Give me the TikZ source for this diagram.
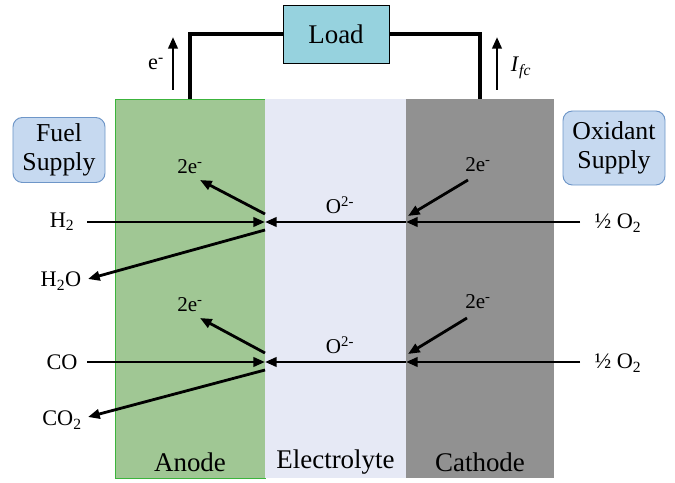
\documentclass[tikz,border=0pt]{standalone}
\usepackage{fontspec}
\setmainfont{Liberation Serif}
\definecolor{anodegreen}{RGB}{160,199,148}
\definecolor{anodeedge}{RGB}{60,180,60}
\definecolor{electrolyte}{RGB}{230,233,245}
\definecolor{cathodegrey}{RGB}{145,145,145}
\definecolor{loadcyan}{RGB}{150,210,222}
\definecolor{supplyblue}{RGB}{198,217,240}
\definecolor{supplyedge}{RGB}{110,150,200}
\usetikzlibrary{arrows.meta,positioning}

\begin{document}
\begin{tikzpicture}[x=0.03cm,y=-0.03cm,
  layer/.style={minimum height=11.37cm,inner sep=0pt,anchor=north},
  supply/.style={draw=supplyedge,fill=supplyblue,rounded corners=8pt,line width=0.8pt,
    align=center,inner sep=0pt,font=\fontsize{22}{25}\selectfont},
  lbl/.style={font=\fontsize{23}{26}\selectfont},
  spec/.style={font=\fontsize{19}{21}\selectfont},
  elec/.style={font=\fontsize{18}{20}\selectfont},
  flow/.style={line width=2.4pt,-{Triangle[length=10pt,width=8pt]}},
  wire/.style={line width=3pt}
]
  \useasboundingbox (0,0) rectangle (675,483);
  \node[layer,fill=anodegreen,draw=anodeedge,line width=0.8pt,minimum width=4.5cm] (anode) at (190,99) {};
  \node[layer,fill=electrolyte,minimum width=4.23cm] (elyte) at (335.5,99) {};
  \node[layer,fill=cathodegrey,minimum width=4.44cm] (cathode) at (480,99) {};
  \node[lbl] (anodelbl) at (190,462) {Anode};
  \node[lbl] (elytelbl) at (335.5,462) {Electrolyte};
  \node[lbl] (cathodelbl) at (480,462) {Cathode};

  \node[draw,fill=loadcyan,line width=0.8pt,minimum width=3.18cm,minimum height=1.74cm,lbl] (load) at (336,34) {Load};
  \draw[wire] (anode.north) |- (load.west);
  \draw[wire] (cathode.north) |- (load.east);

  \node[supply,minimum width=2.76cm,minimum height=1.95cm] (fuel) at (59,150) {Fuel\\Supply};
  \node[supply,minimum width=3.06cm,minimum height=2.22cm] (oxid) at (614,148) {Oxidant\\Supply};

  \coordinate (eb) at (173,90);
  \coordinate (et) at (173,37);
  \draw[flow] (eb) -- (et);
  \node[spec] (elbl) at (156,64) {e\textsuperscript{-}};
  \coordinate (ib) at (497,90);
  \coordinate (it) at (497,37);
  \draw[flow] (ib) -- (it);
  \node[spec] (ilbl) at (521,68) {\textit{I}\textsubscript{\textit{fc}}};

  \coordinate (ja1) at (265,222);
  \coordinate (jc1) at (406,222);
  \coordinate (ja2) at (265,362);
  \coordinate (jc2) at (406,362);

  \node[spec] (h2) at (62,222) {H\textsubscript{2}};
  \coordinate (h2in) at (87,222);
  \draw[flow] (h2in) -- (ja1);
  \node[spec] (h2o) at (61,281) {H\textsubscript{2}O};
  \coordinate (h2oout) at (88,279);
  \coordinate (ja1b) at (265,230);
  \draw[flow] (ja1b) -- (h2oout);
  \node[elec] (ea1) at (190,167) {2e\textsuperscript{-}};
  \coordinate (ea1t) at (200,180);
  \coordinate (ja1a) at (265,214);
  \draw[flow] (ja1a) -- (ea1t);
  \node[elec] (ox1) at (340,205) {O\textsuperscript{2-}};
  \draw[flow] (jc1) -- (ja1);
  \node[elec] (ec1) at (478,165) {2e\textsuperscript{-}};
  \coordinate (ec1s) at (468,180);
  \coordinate (ec1t) at (408,216);
  \draw[flow] (ec1s) -- (ec1t);
  \node[spec] (o21) at (618,223) {\textonehalf\ O\textsubscript{2}};
  \coordinate (o21in) at (580,222);
  \draw[flow] (o21in) -- (jc1);

  \node[spec] (co) at (62,362) {CO};
  \coordinate (coin) at (87,362);
  \draw[flow] (coin) -- (ja2);
  \node[spec] (co2) at (62,420) {CO\textsubscript{2}};
  \coordinate (co2out) at (88,417);
  \coordinate (ja2b) at (265,370);
  \draw[flow] (ja2b) -- (co2out);
  \node[elec] (ea2) at (190,305) {2e\textsuperscript{-}};
  \coordinate (ea2t) at (200,318);
  \coordinate (ja2a) at (265,353);
  \draw[flow] (ja2a) -- (ea2t);
  \node[elec] (ox2) at (340,345) {O\textsuperscript{2-}};
  \draw[flow] (jc2) -- (ja2);
  \node[elec] (ec2) at (478,302) {2e\textsuperscript{-}};
  \coordinate (ec2s) at (467,318);
  \coordinate (ec2t) at (408,354);
  \draw[flow] (ec2s) -- (ec2t);
  \node[spec] (o22) at (618,363) {\textonehalf\ O\textsubscript{2}};
  \coordinate (o22in) at (580,362);
  \draw[flow] (o22in) -- (jc2);
\end{tikzpicture}
\end{document}
